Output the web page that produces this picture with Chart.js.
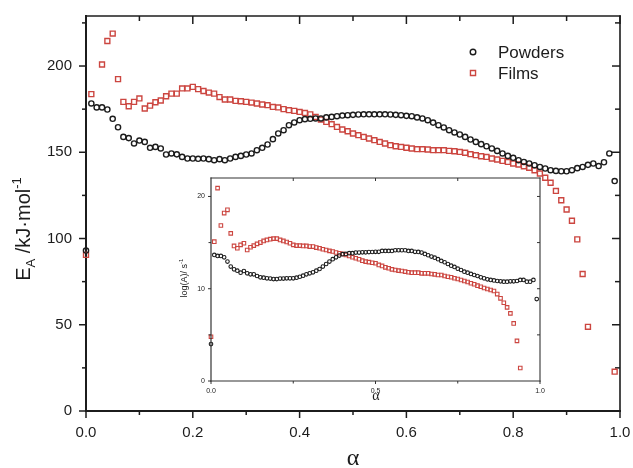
<!DOCTYPE html>
<html>
<head>
<meta charset="utf-8">
<script src="https://cdn.jsdelivr.net/npm/chart.js@4.4.1/dist/chart.umd.min.js"></script>
<style>
  html, body { margin: 0; padding: 0; background: #fff; }
  #wrap { position: relative; width: 633px; height: 468px; overflow: hidden; background: #fff; }
  #main-chart { position: absolute; left: 0; top: 0; }
  #inset-chart { position: absolute; left: 170px; top: 168px; }
</style>
</head>
<body>
<div id="wrap">
  <canvas id="main-chart" width="633" height="468"></canvas>
  <canvas id="inset-chart" width="378" height="240"></canvas>
</div>
<script>
// conversion degree (alpha) shared by both panels
const alpha = [
  0.00, 0.01, 0.02, 0.03, 0.04, 0.05, 0.06, 0.07, 0.08, 0.09,
  0.10, 0.11, 0.12, 0.13, 0.14, 0.15, 0.16, 0.17, 0.18, 0.19,
  0.20, 0.21, 0.22, 0.23, 0.24, 0.25, 0.26, 0.27, 0.28, 0.29,
  0.30, 0.31, 0.32, 0.33, 0.34, 0.35, 0.36, 0.37, 0.38, 0.39,
  0.40, 0.41, 0.42, 0.43, 0.44, 0.45, 0.46, 0.47, 0.48, 0.49,
  0.50, 0.51, 0.52, 0.53, 0.54, 0.55, 0.56, 0.57, 0.58, 0.59,
  0.60, 0.61, 0.62, 0.63, 0.64, 0.65, 0.66, 0.67, 0.68, 0.69,
  0.70, 0.71, 0.72, 0.73, 0.74, 0.75, 0.76, 0.77, 0.78, 0.79,
  0.80, 0.81, 0.82, 0.83, 0.84, 0.85, 0.86, 0.87, 0.88, 0.89,
  0.90, 0.91, 0.92, 0.93, 0.94, 0.95, 0.96, 0.97, 0.98, 0.99
];

// activation energy E_A (kJ/mol)
const powdersEa = [
  93, 178.3, 176, 176, 174.8, 169.4, 164.5, 158.9, 158.2, 155.1,
  156.8, 156, 152.6, 153.1, 152.2, 148.7, 149.3, 148.8, 147.3, 146.4,
  146.4, 146.2, 146.4, 146, 145.4, 146, 145.4, 146.4, 147.3, 147.9,
  148.7, 149.3, 151.2, 152.6, 154.5, 157.6, 160.9, 162.8, 165.7, 167.3,
  168.6, 169.2, 169.4, 169.6, 169.6, 170.2, 170.5, 170.9, 171.3, 171.5,
  171.7, 171.9, 172, 172, 172, 172, 172, 171.9, 171.7, 171.5,
  171.1, 170.9, 170.2, 169.6, 168.6, 167.2, 165.7, 164.4, 162.8, 161.5,
  160.3, 158.9, 157.4, 156, 154.7, 153.5, 152.2, 150.8, 149.3, 147.9,
  146.8, 145.4, 144.4, 143.5, 142.5, 141.5, 140.6, 139.6, 139.2, 139,
  139, 139.6, 140.8, 141.5, 142.7, 143.5, 142, 144.2, 149.3, 133.3
];
const filmsEa = [
  90.5, 183.7, null, 200.9, 214.5, 218.8, 192.4, 179.2, 176.7, 179.2,
  181.2, 175.4, 177, 179, 180, 182.5, 184, 184, 187, 187,
  187.9, 186.6, 185.5, 184.6, 184, 182, 180.6, 180.6, 179.8, 179.6,
  179.2, 178.8, 178.3, 177.7, 177.3, 176.3, 176, 175, 174.4, 174,
  173.4, 172.8, 172, 170.5, 169, 167.6, 166.3, 164.7, 163.2, 162.2,
  160.9, 159.9, 158.9, 158, 157, 156, 155.1, 154.1, 153.5, 153.1,
  152.6, 152.2, 151.8, 151.8, 151.6, 151.2, 151.2, 151.2, 150.8, 150.6,
  150.2, 149.7, 148.9, 148.3, 147.7, 147.3, 146.4, 145.8, 145, 144.4,
  143.5, 142.9, 141.9, 141, 139.6, 137.7, 135.2, 132.3, 127.6, 122.2,
  116.8, 110.3, 99.5, 79.4, 48.8, null, null, null, null, 22.8
];

// pre-exponential factor log(A) (s^-1)
const powdersLogA = [
  4.0, 13.66, 13.55, 13.55, 13.4, 12.94, 12.4, 12.1, 11.96, 11.74,
  11.92, 11.67, 11.56, 11.56, 11.38, 11.24, 11.2, 11.13, 11.1, 11.05,
  11.05, 11.1, 11.1, 11.13, 11.13, 11.13, 11.2, 11.3, 11.41, 11.56,
  11.67, 11.78, 11.96, 12.14, 12.4, 12.68, 12.94, 13.2, 13.4, 13.59,
  13.74, 13.77, 13.85, 13.85, 13.92, 13.92, 13.95, 13.95, 13.97, 13.98,
  14.0, 14.0, 14.1, 14.1, 14.1, 14.1, 14.17, 14.17, 14.17, 14.17,
  14.1, 14.1, 14.0, 13.99, 13.92, 13.77, 13.63, 13.48, 13.37, 13.2,
  13.01, 12.87, 12.68, 12.5, 12.36, 12.17, 12.03, 11.85, 11.74, 11.6,
  11.49, 11.38, 11.24, 11.13, 11.02, 10.95, 10.9, 10.84, 10.8, 10.76,
  10.76, 10.8, 10.8, 10.84, 10.95, 10.95, 10.76, 10.76, 10.95, 8.88
];
const filmsLogA = [
  4.8, 15.1, 20.9, 16.85, 18.2, 18.55, 16.0, 14.64, 14.39, 14.75,
  14.93, 14.2, 14.5, 14.67, 14.86, 15.0, 15.18, 15.29, 15.37, 15.43,
  15.43, 15.29, 15.18, 15.07, 14.93, 14.75, 14.67, 14.67, 14.64, 14.64,
  14.57, 14.57, 14.46, 14.39, 14.28, 14.2, 14.1, 14.03, 13.92, 13.85,
  13.77, 13.66, 13.55, 13.41, 13.3, 13.2, 13.04, 12.94, 12.88, 12.82,
  12.76, 12.58, 12.47, 12.32, 12.22, 12.1, 12.03, 11.96, 11.92, 11.85,
  11.78, 11.74, 11.74, 11.74, 11.67, 11.67, 11.67, 11.6, 11.56, 11.49,
  11.49, 11.38, 11.3, 11.24, 11.13, 11.05, 10.95, 10.84, 10.73, 10.59,
  10.48, 10.33, 10.22, 10.08, 9.97, 9.86, 9.75, 9.42, 8.96, 8.48,
  7.98, 7.33, 6.24, 4.35, 1.41, null, null, null, null, null
];

// axis ticks
const mainXMajor = [0, 0.2, 0.4, 0.6, 0.8, 1.0];
const mainXMinor = [0.1, 0.3, 0.5, 0.7, 0.9];
const mainYMajor = [0, 50, 100, 150, 200];
const mainYMinor = [25, 75, 125, 175, 225];
const insetXMajor = [0, 0.5, 1.0];
const insetXMinor = [0.25, 0.75];
const insetYMajor = [0, 10, 20];
const insetYMinor = [5, 15];

const seriesNames = ['Powders', 'Films'];

const sans = "'Liberation Sans', Arial, sans-serif";
const serif = "'Liberation Serif', 'DejaVu Serif', serif";
const ink = '#1c1c1c';
const filmRed = '#cc4640';

function toPoints(values) {
  return alpha
    .map((a, i) => ({ x: a, y: values[i] }))
    .filter(p => p.y !== null);
}

function line(ctx, x1, y1, x2, y2, w) {
  ctx.lineWidth = w;
  ctx.beginPath();
  ctx.moveTo(x1, y1);
  ctx.lineTo(x2, y2);
  ctx.stroke();
}

// draws a run of text pieces (with sub/superscripts) rotated to read bottom-up
function drawVerticalTitle(ctx, runs, cx, cy) {
  ctx.save();
  ctx.translate(cx, cy);
  ctx.rotate(-Math.PI / 2);
  let total = 0;
  runs.forEach(r => { ctx.font = r.font; total += ctx.measureText(r.text).width; });
  let u = -total / 2;
  ctx.textAlign = 'left';
  ctx.textBaseline = 'alphabetic';
  runs.forEach(r => {
    ctx.font = r.font;
    ctx.fillText(r.text, u, r.dy || 0);
    u += ctx.measureText(r.text).width;
  });
  ctx.restore();
}

// frame with ticks on all four sides: outward on left/bottom, inward on top/right
function drawFrame(ctx, area, xs, ys, o) {
  ctx.save();
  ctx.strokeStyle = o.color;
  ctx.lineCap = 'square';
  line(ctx, area.left, area.top, area.left, area.bottom, o.heavy);
  line(ctx, area.left, area.bottom, area.right, area.bottom, o.heavy);
  line(ctx, area.left, area.top, area.right, area.top, o.light);
  line(ctx, area.right, area.top, area.right, area.bottom, o.light);
  ctx.lineCap = 'butt';
  const tick = (v, len, isMajor, axis) => {
    if (axis === 'x') {
      const px = xs.getPixelForValue(v);
      line(ctx, px, area.bottom, px, area.bottom + len.out, o.tickW);
      if (o.topTicks(v, isMajor)) line(ctx, px, area.top, px, area.top + len.in, o.tickW);
    } else {
      const py = ys.getPixelForValue(v);
      line(ctx, area.left, py, area.left - len.out, py, o.tickW);
      if (o.rightTicks(v, isMajor)) line(ctx, area.right, py, area.right - len.in, py, o.tickW);
    }
  };
  o.xMajor.forEach(v => tick(v, o.major, true, 'x'));
  o.xMinor.forEach(v => tick(v, o.minor, false, 'x'));
  o.yMajor.forEach(v => tick(v, o.major, true, 'y'));
  o.yMinor.forEach(v => tick(v, o.minor, false, 'y'));
  ctx.restore();
}

const mainDecor = {
  id: 'mainDecor',
  beforeDatasetsDraw(chart) {
    const { ctx, chartArea, scales } = chart;
    drawFrame(ctx, chartArea, scales.x, scales.y, {
      color: ink, heavy: 2, light: 1.6, tickW: 1.5,
      major: { out: 7, in: 8 }, minor: { out: 4, in: 5 },
      xMajor: mainXMajor, xMinor: mainXMinor, yMajor: mainYMajor, yMinor: mainYMinor,
      topTicks: () => true, rightTicks: () => true
    });
  },
  afterDraw(chart) {
    const { ctx } = chart;
    ctx.save();
    ctx.fillStyle = ink;

    // legend
    const rows = [52, 73];
    chart.data.datasets.forEach((ds, i) => {
      ctx.strokeStyle = ds.pointBorderColor;
      ctx.fillStyle = 'rgba(0,0,0,0)';
      ctx.lineWidth = 1.4;
      Chart.helpers.drawPoint(ctx, {
        pointStyle: ds.pointStyle, radius: ds.pointStyle === 'rect' ? 3.6 : 2.8,
        borderWidth: 1.4, rotation: 0
      }, 473, rows[i]);
      ctx.fillStyle = ink;
      ctx.font = `17px ${sans}`;
      ctx.textAlign = 'left';
      ctx.textBaseline = 'middle';
      ctx.fillText(ds.label, 498, rows[i] + 1);
    });

    // axis titles
    drawVerticalTitle(ctx, [
      { text: 'E', font: `20px ${sans}` },
      { text: 'A', font: `13px ${sans}`, dy: 5 },
      { text: ' /kJ·mol', font: `20px ${sans}` },
      { text: '-1', font: `13px ${sans}`, dy: -9 }
    ], 30, 229);

    ctx.font = `24px ${serif}`;
    ctx.textAlign = 'center';
    ctx.textBaseline = 'alphabetic';
    ctx.fillText('α', 353, 465);
    ctx.restore();
  }
};

const insetDecor = {
  id: 'insetDecor',
  beforeDraw(chart) {
    const { ctx, chartArea: a } = chart;
    ctx.save();
    ctx.fillStyle = '#fff';
    ctx.fillRect(a.left, a.top, a.right - a.left, a.bottom - a.top);
    ctx.restore();
  },
  afterDatasetsDraw(chart) {
    const { ctx, chartArea, scales } = chart;
    drawFrame(ctx, chartArea, scales.x, scales.y, {
      color: '#333', heavy: 1.2, light: 1.1, tickW: 1,
      major: { out: 3, in: 3 }, minor: { out: 2.5, in: 3 },
      xMajor: insetXMajor, xMinor: insetXMinor, yMajor: insetYMajor, yMinor: insetYMinor,
      topTicks: v => v > 0 && v < 1, rightTicks: v => v > 0
    });
    ctx.save();
    ctx.fillStyle = ink;
    drawVerticalTitle(ctx, [
      { text: 'log(A)/ s', font: `9px ${sans}` },
      { text: '-1', font: `6px ${sans}`, dy: -4 }
    ], 17, 110);
    ctx.font = `14px ${serif}`;
    ctx.textAlign = 'center';
    ctx.textBaseline = 'alphabetic';
    ctx.fillText('α', 206, 232);
    ctx.restore();
  }
};

function seriesStyles(small) {
  return [
    {
      pointStyle: 'circle', pointRadius: small ? 1.8 : 2.6,
      pointBorderColor: ink, pointBackgroundColor: 'rgba(0,0,0,0)',
      pointBorderWidth: small ? 1.1 : 1.4
    },
    {
      pointStyle: 'rect', pointRadius: small ? 2.5 : 3.5,
      pointBorderColor: filmRed, pointBackgroundColor: 'rgba(0,0,0,0)',
      pointBorderWidth: small ? 1.1 : 1.4
    }
  ];
}

function buildDatasets(seriesValues, small) {
  const styles = seriesStyles(small);
  return seriesValues.map((values, i) => Object.assign({
    label: seriesNames[i],
    data: toPoints(values),
    showLine: false,
    pointHoverRadius: 0,
    clip: false
  }, styles[i]));
}

// fixed-size axis; the edge padding a scale asks for is dropped so the
// layout padding alone places the plot area
function axis(min, max, major, fontSize, padding, fmt, size) {
  return {
    type: 'linear', min: min, max: max,
    grid: { display: false, drawTicks: false },
    border: { display: false },
    ticks: {
      font: { family: sans, size: fontSize }, color: ink, padding: padding,
      autoSkip: false, maxRotation: 0, callback: fmt
    },
    afterBuildTicks: s => { s.ticks = major.map(v => ({ value: v })); },
    afterFit: s => {
      if (s.isHorizontal()) s.height = size; else s.width = size;
      s.paddingTop = s.paddingBottom = s.paddingLeft = s.paddingRight = 0;
    }
  };
}

Chart.defaults.animation = false;

new Chart(document.getElementById('main-chart'), {
  type: 'scatter',
  data: { datasets: buildDatasets([powdersEa, filmsEa], false) },
  options: {
    responsive: false,
    animation: false,
    layout: { padding: { top: 16, right: 13, left: 0, bottom: 0 } },
    plugins: { legend: { display: false }, tooltip: { enabled: false } },
    scales: {
      x: axis(0, 1, mainXMajor, 15, 13, v => v.toFixed(1), 57),
      y: axis(0, 229, mainYMajor, 15, 14, v => String(v), 86)
    }
  },
  plugins: [mainDecor]
});

new Chart(document.getElementById('inset-chart'), {
  type: 'scatter',
  data: { datasets: buildDatasets([powdersLogA, filmsLogA], true) },
  options: {
    responsive: false,
    animation: false,
    layout: { padding: { top: 10, right: 8, left: 0, bottom: 0 } },
    plugins: { legend: { display: false }, tooltip: { enabled: false } },
    scales: {
      x: axis(0, 1, insetXMajor, 7, 6, v => v.toFixed(1), 27),
      y: axis(0, 22, insetYMajor, 7, 6, v => String(v), 41)
    }
  },
  plugins: [insetDecor]
});
</script>
</body>
</html>
